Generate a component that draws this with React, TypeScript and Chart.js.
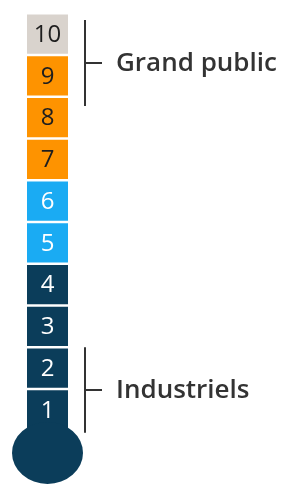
import React, { useEffect, useRef } from "react";
import { Chart, registerables } from "chart.js";

Chart.register(...registerables);

// Levels of the thermometer, bottom to top
const levels = ["1", "2", "3", "4", "5", "6", "7", "8", "9", "10"];
const levelValues = [1, 1, 1, 1, 1, 1, 1, 1, 1, 1];
const NAVY = "#0B3D5A";
const BLUE = "#1AABF3";
const ORANGE = "#FE9300";
const GRAY = "#D9D3CD";
const levelColors = [NAVY, NAVY, NAVY, NAVY, BLUE, BLUE, ORANGE, ORANGE, ORANGE, GRAY];
const levelTextColors = ["#FFFFFF", "#FFFFFF", "#FFFFFF", "#FFFFFF", "#FFFFFF", "#FFFFFF", "#1E1E1E", "#1E1E1E", "#1E1E1E", "#1E1E1E"];

// Bracket groups (in level units)
const groupLabels = ["Grand public", "Industriels"];
const groupFrom = [7.78, -0.05];
const groupTo = [9.84, 2.0];

// Bulb position (level units) and axis range
const bulbLevel = -0.53;
const axisMin = -1.323;
const axisMax = 10.317;

const thermoPlugin = {
  id: "thermo",
  afterDatasetsDraw(chart: any) {
    const ctx = chart.ctx;
    const yScale = chart.scales.y;
    const area = chart.chartArea;
    const first = chart.getDatasetMeta(0).data[0];
    const cx = first.x;
    ctx.save();
    // bulb
    ctx.fillStyle = NAVY;
    ctx.beginPath();
    ctx.ellipse(cx, yScale.getPixelForValue(bulbLevel), 35.5, 31, 0, 0, Math.PI * 2);
    ctx.fill();
    // level numbers
    ctx.font = '24px "Open Sans"';
    ctx.textAlign = "center";
    ctx.textBaseline = "middle";
    chart.data.datasets.forEach((_ds: any, i: number) => {
      const el = chart.getDatasetMeta(i).data[0];
      const yc = (el.y + el.base) / 2;
      ctx.fillStyle = levelTextColors[i];
      ctx.fillText(levels[i], el.x, yc + 1);
    });
    // brackets
    const bx = area.right - 10;
    ctx.strokeStyle = "#333333";
    ctx.lineWidth = 2;
    ctx.fillStyle = "#333333";
    ctx.font = '600 26px "Open Sans"';
    ctx.textAlign = "left";
    ctx.textBaseline = "alphabetic";
    groupLabels.forEach((label, i) => {
      const y1 = yScale.getPixelForValue(groupTo[i]);
      const y2 = yScale.getPixelForValue(groupFrom[i]);
      const ym = (y1 + y2) / 2;
      ctx.beginPath();
      ctx.moveTo(bx, y1);
      ctx.lineTo(bx, y2);
      ctx.moveTo(bx, ym);
      ctx.lineTo(bx + 17, ym);
      ctx.stroke();
      ctx.fillText(label, bx + 31, ym + 8);
    });
    ctx.restore();
  },
};

export default function App() {
  const ref = useRef<HTMLCanvasElement>(null);
  useEffect(() => {
    if (!ref.current) return;
    const chart = new Chart(ref.current, {
      type: "bar",
      data: {
        labels: [""],
        datasets: levels.map((lv, i) => ({
          label: lv,
          data: [levelValues[i]],
          backgroundColor: levelColors[i],
          borderColor: "#FFFFFF",
          borderWidth: { top: 1.6, bottom: 1.6, left: 0, right: 0 },
          borderSkipped: false,
          barThickness: 41,
        })),
      },
      options: {
        animation: false,
        responsive: false,
        devicePixelRatio: 1,
        layout: { padding: { left: 0, top: 0, bottom: 0, right: 189 } },
        plugins: { legend: { display: false }, tooltip: { enabled: false } },
        scales: {
          x: { stacked: true, display: false },
          y: { stacked: true, display: false, min: axisMin, max: axisMax },
        },
      },
      plugins: [thermoPlugin],
    });
    return () => chart.destroy();
  }, []);
  return (
    <div style={{ position: "absolute", left: 0, top: 0, width: 284, height: 486, background: "#fff" }}>
      <canvas ref={ref} width={284} height={486} />
    </div>
  );
}
